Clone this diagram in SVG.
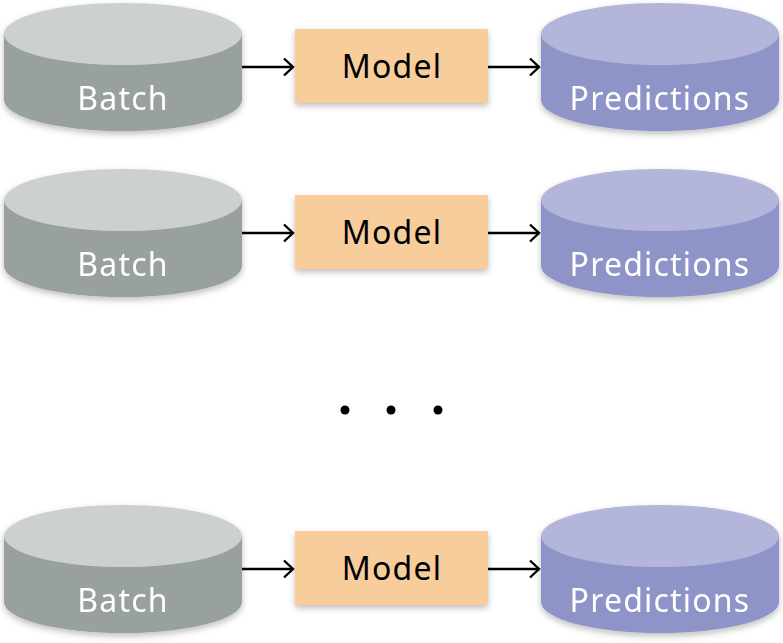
<svg xmlns="http://www.w3.org/2000/svg" width="783" height="643" viewBox="0 0 783 643">
<defs>
<filter id="sh" x="-10%" y="-20%" width="120%" height="150%">
<feDropShadow dx="0" dy="3" stdDeviation="3" flood-color="#000" flood-opacity="0.25"/>
</filter>
<marker id="ah" markerWidth="14" markerHeight="20" refX="12" refY="10" orient="auto" markerUnits="userSpaceOnUse">
<path d="M3,1.5 L12,10 L3,18.5" fill="none" stroke="#000" stroke-width="2.4"/>
</marker>
<g id="batchCyl">
<path d="M4,34 L4,100 A119,31 0 0 0 242,100 L242,34 Z" fill="#99a19f"/>
<ellipse cx="123" cy="34" rx="119" ry="31" fill="#ccd1cf"/>
</g>
<g id="predCyl">
<path d="M541,34 L541,100 A119,31 0 0 0 779,100 L779,34 Z" fill="#8f94c8"/>
<ellipse cx="660" cy="34" rx="119" ry="31" fill="#b3b5da"/>
</g>
</defs>
<style>
.lbl{font-family:"Noto Sans","DejaVu Sans",sans-serif;font-size:32px;font-weight:400;letter-spacing:1.2px;text-anchor:middle}
.w{fill:#ffffff}
.k{fill:#000000}
.model{fill:#f7cd9c}
.conn{stroke:#000;stroke-width:2.4;fill:none;marker-end:url(#ah)}
</style>
<g id="batch1" filter="url(#sh)"><use href="#batchCyl"/><text class="lbl w" x="123" y="110">Batch</text></g>
<g id="model1"><rect class="model" x="295" y="29" width="193" height="74" filter="url(#sh)"/><text class="lbl k" x="392" y="78">Model</text></g>
<g id="pred1" filter="url(#sh)"><use href="#predCyl"/><text class="lbl w" x="660" y="110">Predictions</text></g>

<g id="batch2" transform="translate(0,166)" filter="url(#sh)"><use href="#batchCyl"/><text class="lbl w" x="123" y="110">Batch</text></g>
<g id="model2" transform="translate(0,166)"><rect class="model" x="295" y="29" width="193" height="74" filter="url(#sh)"/><text class="lbl k" x="392" y="78">Model</text></g>
<g id="pred2" transform="translate(0,166)" filter="url(#sh)"><use href="#predCyl"/><text class="lbl w" x="660" y="110">Predictions</text></g>

<g id="batch3" transform="translate(0,502)" filter="url(#sh)"><use href="#batchCyl"/><text class="lbl w" x="123" y="110">Batch</text></g>
<g id="model3" transform="translate(0,502)"><rect class="model" x="295" y="29" width="193" height="74" filter="url(#sh)"/><text class="lbl k" x="392" y="78">Model</text></g>
<g id="pred3" transform="translate(0,502)" filter="url(#sh)"><use href="#predCyl"/><text class="lbl w" x="660" y="110">Predictions</text></g>

<g id="ellipsis" fill="#000">
<circle cx="345" cy="410" r="4.5"/>
<circle cx="391" cy="410" r="4.5"/>
<circle cx="438" cy="410" r="4.5"/>
</g>

<g id="connectors">
<line class="conn" x1="242" y1="67" x2="293" y2="67"/>
<line class="conn" x1="488" y1="67" x2="539" y2="67"/>
<line class="conn" x1="242" y1="233" x2="293" y2="233"/>
<line class="conn" x1="488" y1="233" x2="539" y2="233"/>
<line class="conn" x1="242" y1="569" x2="293" y2="569"/>
<line class="conn" x1="488" y1="569" x2="539" y2="569"/>
</g>
</svg>
